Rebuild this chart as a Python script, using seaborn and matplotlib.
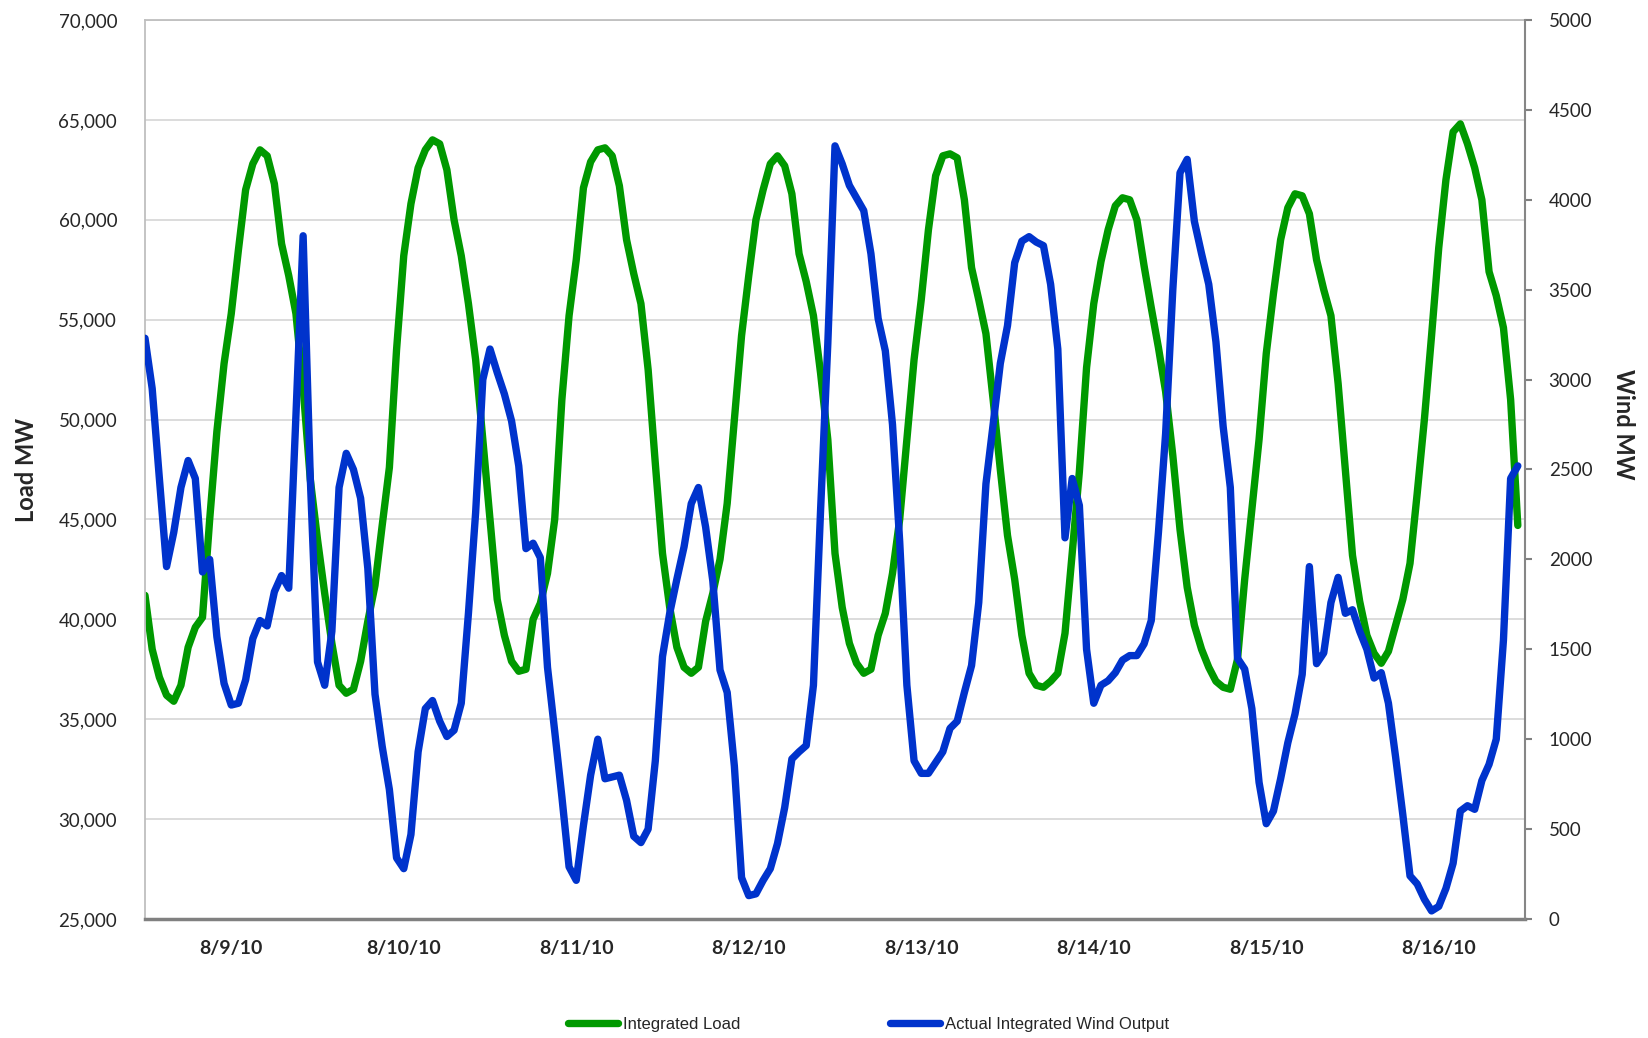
import numpy as np
import pandas as pd
import matplotlib
matplotlib.use("Agg")
import matplotlib.pyplot as plt
import seaborn as sns
from matplotlib.ticker import FuncFormatter, FixedLocator

# hourly values, 8/9/10 00:00 .. 8/16/10 23:00
day_labels = ["8/9/10", "8/10/10", "8/11/10", "8/12/10", "8/13/10", "8/14/10", "8/15/10", "8/16/10"]

load_d1 = [41200, 38500, 37100, 36200, 35900, 36700, 38600, 39600, 40100, 45000, 49400, 52800,
           55300, 58500, 61500, 62800, 63500, 63200, 61800, 58800, 57200, 55300, 51600, 47000]
load_d2 = [44000, 41300, 38800, 36700, 36300, 36500, 37900, 39900, 41700, 44700, 47600, 53500,
           58200, 60800, 62600, 63500, 64000, 63800, 62500, 60000, 58200, 55800, 53000, 49000]
load_d3 = [45000, 41000, 39200, 37900, 37400, 37500, 40000, 40800, 42300, 45000, 51000, 55200,
           58000, 61600, 62900, 63500, 63600, 63200, 61700, 59000, 57300, 55800, 52500, 47800]
load_d4 = [43300, 40600, 38600, 37600, 37300, 37600, 39900, 41300, 43000, 45800, 50000, 54200,
           57200, 60000, 61500, 62800, 63200, 62700, 61300, 58300, 56900, 55200, 52300, 49000]
load_d5 = [43300, 40600, 38800, 37800, 37300, 37500, 39200, 40300, 42300, 45000, 49000, 53000,
           56000, 59500, 62200, 63200, 63300, 63100, 61000, 57600, 56000, 54300, 51000, 47500]
load_d6 = [44200, 42000, 39200, 37300, 36700, 36600, 36900, 37300, 39300, 43300, 47400, 52600,
           55800, 57900, 59500, 60700, 61100, 61000, 60000, 57700, 55600, 53600, 51400, 48200]
load_d7 = [44500, 41600, 39700, 38500, 37600, 36900, 36600, 36500, 38000, 42000, 45500, 49000,
           53300, 56300, 59000, 60600, 61300, 61200, 60300, 58000, 56500, 55200, 51800, 47500]
load_d8 = [43200, 40900, 39200, 38300, 37800, 38400, 39700, 41000, 42800, 46300, 50000, 54200,
           58600, 62000, 64400, 64800, 63800, 62600, 61000, 57400, 56200, 54600, 51000, 44700]

wind_d1 = [3230, 2950, 2450, 1960, 2150, 2400, 2550, 2450, 1930, 2000, 1570, 1310,
           1190, 1200, 1330, 1560, 1660, 1630, 1820, 1910, 1840, 2800, 3800, 2450]
wind_d2 = [1430, 1300, 1600, 2400, 2590, 2500, 2340, 1950, 1250, 960, 720, 340,
           280, 470, 930, 1170, 1215, 1100, 1015, 1050, 1200, 1700, 2260, 3000]
wind_d3 = [3170, 3040, 2920, 2770, 2520, 2060, 2090, 2010, 1400, 1045, 680, 290,
           215, 520, 800, 1000, 780, 790, 800, 660, 460, 425, 500, 880]
wind_d4 = [1460, 1700, 1890, 2070, 2310, 2400, 2180, 1880, 1385, 1260, 850, 230,
           130, 140, 215, 280, 420, 620, 890, 930, 965, 1300, 2280, 3200]
wind_d5 = [4300, 4200, 4080, 4010, 3940, 3700, 3340, 3160, 2750, 2100, 1300, 880,
           810, 810, 870, 930, 1060, 1100, 1260, 1410, 1760, 2420, 2750, 3090]
wind_d6 = [3300, 3650, 3770, 3795, 3765, 3745, 3530, 3170, 2120, 2450, 2300, 1500,
           1200, 1300, 1325, 1370, 1440, 1465, 1465, 1530, 1660, 2150, 2700, 3500]
wind_d7 = [4150, 4225, 3880, 3700, 3530, 3210, 2740, 2400, 1450, 1390, 1170, 760,
           530, 600, 780, 980, 1140, 1360, 1960, 1420, 1480, 1760, 1900, 1700]
wind_d8 = [1720, 1600, 1500, 1340, 1370, 1200, 900, 580, 240, 195, 110, 45,
           70, 170, 310, 600, 630, 610, 770, 860, 1000, 1550, 2450, 2520]

load = load_d1 + load_d2 + load_d3 + load_d4 + load_d5 + load_d6 + load_d7 + load_d8
wind = wind_d1 + wind_d2 + wind_d3 + wind_d4 + wind_d5 + wind_d6 + wind_d7 + wind_d8

df = pd.DataFrame({"hour": np.arange(len(load)), "load": load, "wind": wind})

sns.set_style("white")
plt.rcParams["font.family"] = ["Lato", "DejaVu Sans"]

fig = plt.figure(figsize=(16.48, 10.38), dpi=100)
ax = fig.add_axes([145 / 1648, 119 / 1038, 1380 / 1648, 899 / 1038])
ax2 = ax.twinx()

green = "#009900"
blue = "#0033CC"

sns.lineplot(data=df, x="hour", y="load", ax=ax, color=green, linewidth=5.3,
             label="Integrated Load", solid_joinstyle="round")
sns.lineplot(data=df, x="hour", y="wind", ax=ax2, color=blue, linewidth=5.3,
             label="Actual Integrated Wind Output", solid_joinstyle="round")

ax.get_legend().remove()
ax2.get_legend().remove()

# axes ranges / ticks
ax.set_xlim(0, 192)
ax.set_ylim(25000, 70000)
ax2.set_ylim(0, 5000)

ax.set_yticks(np.arange(25000, 70001, 5000))
ax.yaxis.set_major_formatter(FuncFormatter(lambda v, p: f"{int(v):,}"))
ax2.set_yticks(np.arange(0, 5001, 500))

ax.set_xticks(np.arange(12, 192, 24))
ax.set_xticklabels(day_labels, fontweight="bold", fontsize=14)
ax.xaxis.set_minor_locator(FixedLocator(np.arange(0, 193, 24)))
ax.tick_params(axis="x", which="major", length=0, pad=15)
ax.tick_params(axis="x", which="minor", length=7, width=1.5, color="#808080", direction="out")

ax.tick_params(axis="y", length=0, pad=20, labelsize=13.5)
ax2.tick_params(axis="y", length=5, width=1.5, color="#808080", direction="out", pad=12, labelsize=13.5)

ax.set_xlabel("")
ax.set_ylabel("")
ax2.set_ylabel("")

ax.yaxis.grid(True, color="#D9D9D9", linewidth=1.3)
ax.set_axisbelow(True)

for s in ["left", "top"]:
    ax.spines[s].set_color("#BFBFBF")
    ax.spines[s].set_linewidth(1.3)
ax.spines["bottom"].set_color("#808080")
ax.spines["bottom"].set_linewidth(2.5)
ax.spines["right"].set_visible(False)
for s in ["left", "top", "bottom"]:
    ax2.spines[s].set_visible(False)
ax2.spines["right"].set_color("#868686")
ax2.spines["right"].set_linewidth(1.5)

fig.text(26 / 1648, 1 - 469.5 / 1038, "Load MW", rotation=90, ha="center", va="center",
         fontweight="bold", fontsize=17)
fig.text(1624 / 1648, 1 - 424 / 1038, "Wind MW", rotation=270, ha="center", va="center",
         fontweight="bold", fontsize=17)

handles = ax.get_lines()[:1] + ax2.get_lines()[:1]
fig.legend(handles, ["Integrated Load", "Actual Integrated Wind Output"],
           loc="center", bbox_to_anchor=(0.527, 14 / 1038), ncol=2, frameon=False,
           handlelength=3.0, handletextpad=0.3, columnspacing=9.0,
           prop={"family": ["Liberation Sans Narrow", "Liberation Sans"], "size": 12})

fig.savefig("out.png", dpi=100)
